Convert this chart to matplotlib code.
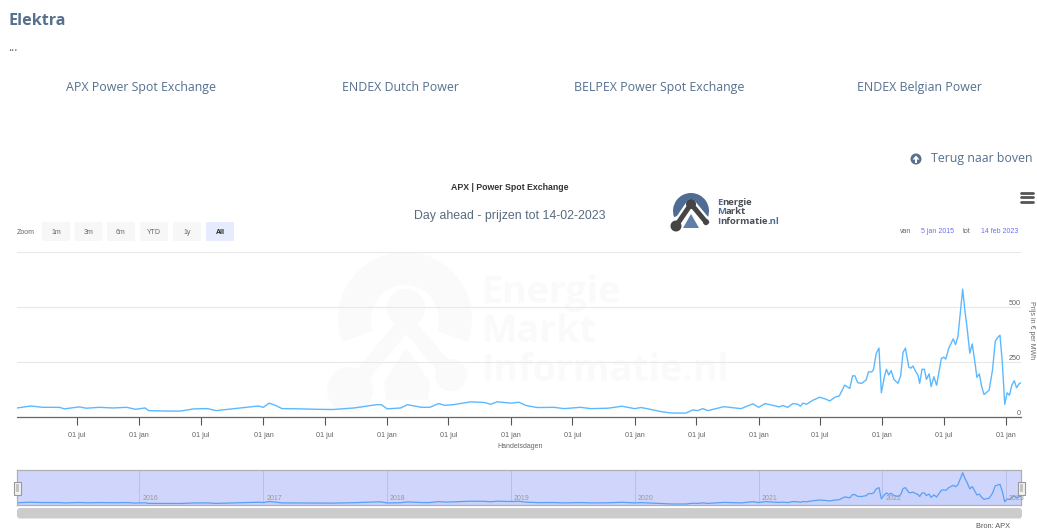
import matplotlib
matplotlib.use('Agg')
import matplotlib.pyplot as plt
import matplotlib.dates as mdates
import pandas as pd
from matplotlib.patches import Circle, FancyBboxPatch, Polygon, Rectangle, Wedge

# prijzen
datums_begin = ['2015-01-05', '2015-02-15', '2015-03-22', '2015-05-10', '2015-05-25', '2015-07-08', '2015-07-28',
                '2015-09-06', '2015-10-15', '2015-11-25', '2015-12-20', '2016-01-18', '2016-01-28', '2016-03-23',
                '2016-05-01', '2016-06-10', '2016-07-20', '2016-08-15', '2016-10-08', '2016-12-17', '2017-01-01',
                '2017-01-18', '2017-02-05', '2017-02-25', '2017-04-20', '2017-06-08', '2017-07-25', '2017-09-25',
                '2017-12-01', '2017-12-15', '2018-01-01', '2018-02-10', '2018-03-02', '2018-04-12', '2018-05-07',
                '2018-06-02', '2018-06-20', '2018-07-15', '2018-09-05', '2018-10-15', '2018-11-02', '2018-11-22',
                '2019-01-01', '2019-01-25', '2019-02-15', '2019-03-20', '2019-05-08', '2019-06-07', '2019-07-25',
                '2019-08-25', '2019-10-15', '2019-11-25', '2020-01-01', '2020-01-20', '2020-02-10', '2020-03-20',
                '2020-04-20', '2020-06-01', '2020-06-20', '2020-07-05', '2020-07-20', '2020-08-05', '2020-09-20',
                '2020-11-10', '2020-12-15', '2021-01-01', '2021-01-20', '2021-03-03']
prijzen_begin = [41, 50, 44, 44, 37, 46, 40, 44, 41, 44, 35, 41, 29, 27, 27, 37, 38, 29, 38, 50, 44, 63, 53, 38, 37,
                 35, 34, 41, 56, 56, 37, 41, 56, 44, 44, 61, 53, 56, 69, 66, 58, 69, 63, 67, 52, 43, 44, 38, 44, 38,
                 40, 49, 38, 43, 37, 24, 18, 18, 32, 29, 38, 29, 47, 38, 60, 44, 61, 46]

datums_eind = ['2021-03-13', '2021-03-28', '2021-04-12', '2021-04-27', '2021-05-04', '2021-05-12', '2021-05-22',
               '2021-06-10', '2021-06-30', '2021-07-15', '2021-07-30', '2021-08-14', '2021-08-27', '2021-09-12',
               '2021-09-27', '2021-10-05', '2021-10-12', '2021-10-20', '2021-11-01', '2021-11-14', '2021-11-21',
               '2021-12-01', '2021-12-06', '2021-12-14', '2021-12-22', '2021-12-29', '2022-01-07', '2022-01-13',
               '2022-01-20', '2022-01-27', '2022-02-04', '2022-02-16', '2022-02-24', '2022-03-03', '2022-03-10',
               '2022-03-20', '2022-03-26', '2022-04-01', '2022-04-11', '2022-04-16', '2022-04-21', '2022-04-28',
               '2022-05-05', '2022-05-11', '2022-05-19', '2022-05-25', '2022-06-02', '2022-06-10', '2022-06-24',
               '2022-07-01', '2022-07-07', '2022-07-16', '2022-07-29', '2022-08-05', '2022-08-12', '2022-08-26',
               '2022-09-01', '2022-09-08', '2022-09-16', '2022-09-23', '2022-09-30', '2022-10-07', '2022-10-14',
               '2022-10-21', '2022-10-28', '2022-11-12', '2022-11-22', '2022-11-30', '2022-12-06', '2022-12-14',
               '2022-12-21', '2022-12-28', '2023-01-04', '2023-01-11', '2023-01-18', '2023-01-25', '2023-02-01',
               '2023-02-08', '2023-02-14']
prijzen_eind = [52, 44, 61, 58, 49, 63, 58, 76, 90, 83, 73, 90, 96, 145, 130, 187, 187, 156, 153, 168, 205, 205, 217,
                290, 313, 110, 183, 217, 191, 211, 171, 153, 187, 294, 313, 226, 222, 232, 202, 191, 153, 217, 217,
                171, 196, 138, 183, 144, 266, 272, 263, 313, 355, 329, 367, 581, 489, 405, 290, 332, 260, 180, 196,
                138, 102, 122, 214, 344, 359, 372, 245, 58, 110, 99, 145, 165, 133, 150, 156]

x_ticks = ['2015-07-01', '2016-01-01', '2016-07-01', '2017-01-01', '2017-07-01', '2018-01-01', '2018-07-01',
           '2019-01-01', '2019-07-01', '2020-01-01', '2020-07-01', '2021-01-01', '2021-07-01', '2022-01-01',
           '2022-07-01', '2023-01-01']
x_labels = ['01 jul', '01 jan'] * 7 + ['01 jul', '01 jan']
y_ticks = [0, 250, 500, 750]
y_labels = ['0', '250', '500', '']
jaren = [2016, 2017, 2018, 2019, 2020, 2021, 2022, 2023]
zoom_labels = ['1m', '3m', '6m', 'YTD', '1y', 'All']
tabs = ['APX Power Spot Exchange', 'ENDEX Dutch Power', 'BELPEX Power Spot Exchange', 'ENDEX Belgian Power']

W, H = 1037, 529
BLAUW = '#56708f'
LIJN = '#5cb9ff'
begin = pd.Timestamp('2015-01-05')
eind = pd.Timestamp('2023-02-14')

datums = pd.to_datetime(datums_begin + datums_eind)
prijzen = prijzen_begin + prijzen_eind

fig = plt.figure(figsize=(W / 100, H / 100), dpi=100, facecolor='white')


def box(left, top, right, bottom):
    # pixels van de pagina naar figuurcoordinaten
    return [left / W, 1 - bottom / H, (right - left) / W, (bottom - top) / H]


# pagina laag, hier komt alles behalve de grafieklijnen
page = fig.add_axes([0, 0, 1, 1], zorder=0)
page.set_xlim(0, W)
page.set_ylim(H, 0)
page.axis('off')

page.text(8, 25, 'Elektra', family='Open Sans', weight='bold', fontsize=11.6, color=BLAUW, va='baseline')
page.text(8, 51, '...', family='Open Sans', fontsize=8.5, color='#666666', va='baseline')
for naam, xc in zip(tabs, [141, 400, 659, 919]):
    page.text(xc, 91, naam, family='Open Sans', fontsize=8.9, color=BLAUW, ha='center', va='baseline')

page.add_patch(Circle((916, 159), 5.5, color=BLAUW, lw=0))
page.add_patch(Polygon([(912.5, 159.5), (916, 155.5), (919.5, 159.5)], color='white', lw=0))
page.add_patch(Rectangle((915, 158), 2, 4.5, color='white', lw=0))
page.text(931, 162, 'Terug naar boven', family='Open Sans', fontsize=8.9, color=BLAUW, va='baseline')

page.text(510, 187.5, 'APX | Power Spot Exchange', family='Liberation Sans', weight='bold', fontsize=6.3,
          color='#333333', ha='center', va='center')
page.text(510, 215.5, 'Day ahead - prijzen tot 14-02-2023', family='Liberation Sans', fontsize=8.9, color='#5a6b80',
          ha='center', va='center')

# watermerk achter de grafiek
VAAL = '#fafafa'
page.add_patch(Wedge((405, 319), 67, 160, 380, color=VAAL, lw=0))
page.add_patch(Circle((405, 319), 34, color='white', lw=0))
page.plot([350, 406, 451], [390, 322, 375], color='white', lw=26, solid_capstyle='round', zorder=2)
page.plot([350, 406, 451], [390, 322, 375], color=VAAL, lw=11, solid_capstyle='round', zorder=2)
page.add_patch(Circle((406, 308), 19, color=VAAL, lw=0, zorder=3))
page.add_patch(Circle((350, 390), 23, color=VAAL, lw=0, zorder=3))
page.add_patch(Circle((451, 375), 16, color=VAAL, lw=0, zorder=3))
page.add_patch(Polygon([(406, 348), (384, 382), (386, 400), (428, 400), (430, 382)], color=VAAL, lw=0, zorder=3))
for regel, yb in zip(['Energie', 'Markt', 'Informatie.nl'], [303, 342, 381]):
    page.text(482, yb, regel, family='Open Sans', weight='bold', fontsize=27, color=VAAL, va='baseline', zorder=3)

# logo
page.add_patch(Wedge((691, 211), 18, 160, 380, color='#4f6d94', lw=0, zorder=4))
page.add_patch(Polygon([(691, 214), (683, 228), (699, 228)], color='#5f7fa8', lw=0, zorder=4))
page.plot([676, 691, 706], [226, 204, 222], color='white', lw=7, zorder=5)
page.plot([676, 691, 706], [226, 204, 222], color='#454545', lw=3.6, zorder=6)
page.add_patch(Circle((691, 204), 5, color='#454545', lw=0, zorder=6))
page.add_patch(Circle((676, 226), 5.5, color='#454545', lw=0, zorder=6))
page.add_patch(Circle((706, 222), 3, color='#454545', lw=0, zorder=6))
for regel, yb in zip(['Energie', 'Markt', 'Informatie'], [205, 214.5, 224]):
    eerste = page.text(717, yb, regel[0], family='Open Sans', weight='bold', fontsize=6.8, color='#4f6d94',
                       va='baseline', zorder=7)
    rest = page.annotate(regel[1:], xy=(1, 0), xycoords=eerste, va='bottom', family='Open Sans', weight='bold',
                         fontsize=6.8, color='#4a4f57', zorder=6)
page.annotate('.nl', xy=(1, 0), xycoords=rest, va='bottom', family='Open Sans', weight='bold', fontsize=6.8,
              color='#4f6d94', zorder=7)

# zoomknoppen
page.text(17, 232, 'Zoom', family='Liberation Sans', fontsize=5, color='#666666', va='center')
for naam, links in zip(zoom_labels, [42, 74.5, 107, 140, 173, 206]):
    actief = naam == 'All'
    page.add_patch(FancyBboxPatch((links + 1, 223), 26, 17, boxstyle='round,pad=1', lw=0,
                                  facecolor='#e6ebfd' if actief else '#f7f7f7'))
    page.text(links + 14, 232, naam, family='Liberation Sans', fontsize=5, weight='bold' if actief else 'normal',
              color='#222222' if actief else '#666666', ha='center', va='center')

page.text(900, 231.5, 'van', family='Liberation Sans', fontsize=5, color='#666666', va='center')
page.text(921, 231.5, '5 jan 2015', family='Liberation Sans', fontsize=5, color='#6f6ff0', va='center')
page.text(963, 231.5, 'tot', family='Liberation Sans', fontsize=5, color='#666666', va='center')
page.text(981, 231.5, '14 feb 2023', family='Liberation Sans', fontsize=5, color='#6f6ff0', va='center')

# menu icoon
for yc in [192.5, 197, 201.5]:
    page.plot([1020.5, 1032.5], [yc, yc], color='#555555', lw=2, solid_capstyle='round')

page.text(520, 447, 'Handelsdagen', family='Liberation Sans', fontsize=5, color='#666666', ha='center', va='center')
page.text(1032, 330, 'Prijs in € per MWh', family='Liberation Sans', fontsize=5, color='#666666', rotation=270,
          ha='center', va='center')
page.text(993, 527, 'Bron: APX', family='Liberation Sans', fontsize=5.3, color='#555555', ha='center', va='center')

# scrollbalk
page.add_patch(FancyBboxPatch((20, 511), 999, 4.5, boxstyle='round,pad=3', lw=0, facecolor='#cccccc'))

# hoofdgrafiek
ax = fig.add_axes(box(17, 252, 1021, 417), zorder=1)
ax.patch.set_alpha(0)
ax.plot(datums, prijzen, color=LIJN, lw=1.0)
ax.set_xlim(begin, eind)
ax.set_ylim(0, 750)
ax.set_xticks(pd.to_datetime(x_ticks))
ax.set_xticklabels(x_labels, family='Liberation Sans', fontsize=5.2, color='#666666')
ax.tick_params(axis='x', length=5.5, width=0.8, color='#555555', pad=5.5)
ax.yaxis.tick_right()
ax.set_yticks(y_ticks)
ax.set_yticklabels(y_labels, family='Liberation Sans', fontsize=5.2, color='#666666', ha='right', va='bottom')
ax.tick_params(axis='y', length=0, pad=0)
ax.grid(axis='y', color='#e8e8e8', lw=0.8)
ax.set_axisbelow(True)
for s in ['top', 'left', 'right']:
    ax.spines[s].set_visible(False)
ax.spines['bottom'].set_color('#666666')
ax.spines['bottom'].set_linewidth(0.9)

# navigator onderaan
nav = fig.add_axes(box(17, 470, 1021, 505), zorder=1)
nav.set_facecolor('#d0d6fb')
nav.fill_between(datums, prijzen, 0, color='#c9d2fb', lw=0)
nav.plot(datums, prijzen, color='#5a9ff5', lw=0.9)
nav.set_xlim(begin, eind)
nav.set_ylim(0, 630)
nav.set_yticks([])
nav.set_xticks([pd.Timestamp(j, 1, 1) for j in jaren])
nav.set_xticklabels([])
nav.tick_params(axis='x', length=0)
nav.grid(axis='x', color='#b8bfea', lw=0.7)
nav.set_axisbelow(True)
for j in jaren:
    nav.annotate(str(j), xy=(mdates.date2num(pd.Timestamp(j, 1, 1)), 0), xytext=(2, 2.5), textcoords='offset points',
                 family='Liberation Sans', fontsize=5, color='#999999', va='bottom', annotation_clip=False)
for s in nav.spines.values():
    s.set_color('#b0b0b0')
    s.set_linewidth(0.9)

# schuifjes links en rechts, boven de navigator
top = fig.add_axes([0, 0, 1, 1], zorder=2)
top.set_xlim(0, W)
top.set_ylim(H, 0)
top.axis('off')
for xc in [17, 1021]:
    top.add_patch(Rectangle((xc - 3.5, 481.5), 7, 13, facecolor='#f2f2f2', edgecolor='#999999', lw=0.8))
    top.add_patch(Rectangle((xc - 1.5, 484), 3, 8, facecolor='#c4c4c4', lw=0))

plt.savefig('out.png', dpi=100)
